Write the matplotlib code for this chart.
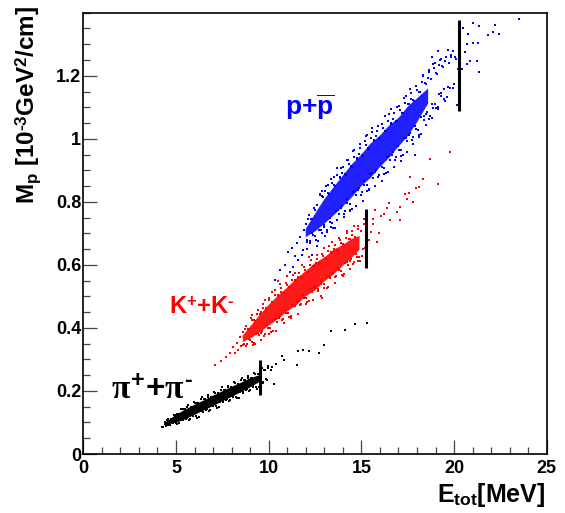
import matplotlib
matplotlib.use("Agg")
import matplotlib.pyplot as plt
from matplotlib.ticker import MultipleLocator, FixedLocator

plt.rcParams['font.family'] = ['Liberation Sans', 'DejaVu Sans']
plt.rcParams['font.weight'] = 'bold'
plt.rcParams['mathtext.fontset'] = 'custom'
plt.rcParams['mathtext.rm'] = 'Liberation Sans:bold'
plt.rcParams['mathtext.bf'] = 'Liberation Sans:bold'
plt.rcParams['mathtext.it'] = 'Liberation Serif'

# ---------------- data: (E_tot [MeV], M_p [1e-3 GeV^2/cm]) ----------------
# dense cores of the three bands (outlines)
pion_core = [(4.35, 0.091), (5.0, 0.099), (5.5, 0.110), (6.0, 0.124), (6.5, 0.138), (7.0, 0.152), (7.5, 0.167),
             (8.0, 0.181), (8.5, 0.196), (9.0, 0.211), (9.6, 0.232),
             (9.6, 0.252), (9.0, 0.240), (8.5, 0.226), (8.0, 0.213), (7.5, 0.199), (7.0, 0.185), (6.5, 0.170),
             (6.0, 0.156), (5.5, 0.141), (5.0, 0.124), (4.35, 0.097)]
kaon_core = [(8.6, 0.355), (9.0, 0.366), (9.5, 0.385), (10.0, 0.407), (10.5, 0.428), (11.0, 0.452), (11.5, 0.472),
             (12.0, 0.500), (12.5, 0.519), (13.0, 0.547), (13.5, 0.570), (14.0, 0.597), (14.5, 0.624), (14.9, 0.648),
             (14.9, 0.692), (14.5, 0.683), (14.0, 0.663), (13.5, 0.648), (13.0, 0.623), (12.5, 0.606), (12.0, 0.580),
             (11.5, 0.557), (11.0, 0.528), (10.5, 0.502), (10.0, 0.473), (9.5, 0.440), (9.0, 0.404), (8.6, 0.376)]
prot_core = [(12.0, 0.688), (12.5, 0.706), (13.0, 0.730), (13.5, 0.757), (14.0, 0.785), (14.5, 0.815), (15.0, 0.850),
             (15.5, 0.876), (16.0, 0.910), (16.5, 0.940), (17.0, 0.975), (17.5, 1.008), (18.0, 1.052), (18.6, 1.112),
             (18.6, 1.160), (18.0, 1.128), (17.5, 1.102), (17.0, 1.066), (16.5, 1.042), (16.0, 1.010), (15.5, 0.985),
             (15.0, 0.950), (14.5, 0.920), (14.0, 0.883), (13.5, 0.846), (13.0, 0.808), (12.5, 0.762), (12.0, 0.714)]

# individual events
pion_pts = [
    (4.22, 0.087), (4.31, 0.085), (4.40, 0.102), (4.49, 0.091), (4.58, 0.110), (4.67, 0.093), (4.76, 0.112),
    (4.85, 0.099), (4.94, 0.123), (5.03, 0.096), (5.12, 0.126), (5.21, 0.108), (5.30, 0.144), (5.39, 0.107),
    (5.48, 0.142), (5.57, 0.113), (5.66, 0.156), (5.75, 0.110), (5.84, 0.149), (5.93, 0.120), (6.02, 0.162),
    (6.11, 0.115), (6.20, 0.161), (6.29, 0.136), (6.38, 0.181), (6.47, 0.134), (6.56, 0.173), (6.65, 0.144),
    (6.74, 0.186), (6.83, 0.141), (6.92, 0.179), (7.01, 0.151), (7.10, 0.193), (7.19, 0.146), (7.28, 0.192),
    (7.37, 0.166), (7.46, 0.212), (7.55, 0.164), (7.64, 0.203), (7.73, 0.174), (7.82, 0.217), (7.91, 0.172),
    (8.00, 0.210), (8.09, 0.182), (8.18, 0.224), (8.27, 0.177), (8.36, 0.222), (8.45, 0.197), (8.54, 0.242),
    (8.63, 0.195), (8.72, 0.234), (8.81, 0.205), (8.90, 0.248), (8.99, 0.202), (9.08, 0.241), (9.17, 0.212),
    (9.26, 0.254), (9.35, 0.207), (9.44, 0.253), (9.53, 0.228), (9.62, 0.273), (9.71, 0.226), (9.80, 0.265),
    (9.89, 0.236), (9.98, 0.278),
    (4.45, 0.089), (4.54, 0.107), (4.63, 0.091), (4.72, 0.110), (4.81, 0.100), (4.90, 0.125), (4.99, 0.097),
    (5.08, 0.127), (5.17, 0.097), (5.26, 0.142), (5.35, 0.107), (5.44, 0.142), (5.53, 0.110), (5.62, 0.150),
    (5.71, 0.107), (5.80, 0.150), (5.89, 0.124), (5.98, 0.166), (6.07, 0.121), (6.16, 0.161), (6.25, 0.117),
    (6.34, 0.173), (6.43, 0.138), (6.52, 0.173), (6.61, 0.141), (6.70, 0.180), (6.79, 0.138), (6.88, 0.180),
    (6.97, 0.155), (7.06, 0.197), (7.15, 0.151), (7.24, 0.192), (7.33, 0.148), (7.42, 0.204), (7.51, 0.168),
    (7.60, 0.204), (7.69, 0.172), (7.78, 0.211), (7.87, 0.168), (7.96, 0.211), (8.05, 0.186), (8.14, 0.228),
    (8.23, 0.182), (8.32, 0.223), (8.41, 0.179), (8.50, 0.234), (8.59, 0.199), (8.68, 0.234), (8.77, 0.202),
    (8.86, 0.242), (8.95, 0.199), (9.04, 0.242), (9.13, 0.216), (9.22, 0.258), (9.31, 0.213), (9.40, 0.253),
    (9.49, 0.214), (9.58, 0.265), (9.67, 0.230), (9.76, 0.265), (9.85, 0.238), (9.94, 0.272), (10.10, 0.267),
    (10.20, 0.276), (10.27, 0.223), (10.42, 0.286), (10.71, 0.310), (10.81, 0.297), (11.50, 0.282),
    (11.56, 0.327), (11.87, 0.329), (12.20, 0.327), (12.74, 0.321), (12.99, 0.345), (13.36, 0.390),
    (14.10, 0.393), (14.64, 0.413), (15.29, 0.415)]

kaon_pts = [
    (7.13, 0.281), (7.45, 0.296), (7.70, 0.309), (7.90, 0.322), (8.05, 0.338), (8.18, 0.320), (8.28, 0.352),
    (8.35, 0.331), (8.45, 0.372), (8.52, 0.342),
    (8.60, 0.386), (8.68, 0.350), (8.76, 0.405), (8.84, 0.348), (8.92, 0.398), (9.00, 0.362), (9.08, 0.426),
    (9.16, 0.346), (9.24, 0.423), (9.32, 0.380), (9.40, 0.457), (9.48, 0.378), (9.56, 0.451), (9.64, 0.389),
    (9.72, 0.477), (9.80, 0.380), (9.88, 0.461), (9.96, 0.399), (10.04, 0.488), (10.12, 0.387), (10.20, 0.482),
    (10.28, 0.426), (10.36, 0.521), (10.44, 0.420), (10.52, 0.501), (10.60, 0.439), (10.68, 0.527), (10.76, 0.429),
    (10.84, 0.510), (10.92, 0.448), (11.00, 0.536), (11.08, 0.435), (11.16, 0.530), (11.24, 0.474), (11.32, 0.569),
    (11.40, 0.468), (11.48, 0.549), (11.56, 0.487), (11.64, 0.575), (11.72, 0.477), (11.80, 0.558), (11.88, 0.496),
    (11.96, 0.584), (12.04, 0.482), (12.12, 0.577), (12.20, 0.521), (12.28, 0.616), (12.36, 0.514), (12.44, 0.595),
    (12.52, 0.532), (12.60, 0.620), (12.68, 0.522), (12.76, 0.602), (12.84, 0.539), (12.92, 0.627), (13.00, 0.526),
    (13.08, 0.620), (13.16, 0.564), (13.24, 0.659), (13.32, 0.557), (13.40, 0.638), (13.48, 0.575), (13.56, 0.663),
    (13.64, 0.565), (13.72, 0.645), (13.80, 0.583), (13.88, 0.670), (13.96, 0.569), (14.04, 0.663), (14.12, 0.607),
    (14.20, 0.702), (14.28, 0.601), (14.36, 0.681), (14.44, 0.618), (14.52, 0.706), (14.60, 0.608), (14.68, 0.689),
    (14.76, 0.626), (14.84, 0.713), (14.92, 0.612), (15.00, 0.707), (15.08, 0.651), (15.16, 0.745),
    (8.64, 0.346), (8.72, 0.396), (8.80, 0.343), (8.88, 0.398), (8.96, 0.366), (9.04, 0.432), (9.12, 0.356),
    (9.20, 0.424), (9.28, 0.350), (9.36, 0.444), (9.44, 0.384), (9.52, 0.445), (9.60, 0.383), (9.68, 0.464),
    (9.76, 0.374), (9.84, 0.463), (9.92, 0.408), (10.00, 0.496), (10.08, 0.399), (10.16, 0.483), (10.24, 0.389),
    (10.32, 0.505), (10.40, 0.429), (10.48, 0.503), (10.56, 0.433), (10.64, 0.514), (10.72, 0.424), (10.80, 0.512),
    (10.88, 0.456), (10.96, 0.544), (11.04, 0.447), (11.12, 0.531), (11.20, 0.437), (11.28, 0.553), (11.36, 0.477),
    (11.44, 0.551), (11.52, 0.481), (11.60, 0.562), (11.68, 0.472), (11.76, 0.560), (11.84, 0.504), (11.92, 0.592),
    (12.00, 0.495), (12.08, 0.579), (12.16, 0.484), (12.24, 0.600), (12.32, 0.523), (12.40, 0.597), (12.48, 0.527),
    (12.56, 0.607), (12.64, 0.516), (12.72, 0.604), (12.80, 0.548), (12.88, 0.636), (12.96, 0.538), (13.04, 0.622),
    (13.12, 0.527), (13.20, 0.643), (13.28, 0.566), (13.36, 0.640), (13.44, 0.570), (13.52, 0.650), (13.60, 0.560),
    (13.68, 0.647), (13.76, 0.591), (13.84, 0.679), (13.92, 0.581), (14.00, 0.665), (14.08, 0.571), (14.16, 0.686),
    (14.24, 0.609), (14.32, 0.683), (14.40, 0.613), (14.48, 0.694), (14.56, 0.603), (14.64, 0.690), (14.72, 0.634),
    (14.80, 0.722), (14.88, 0.624), (14.96, 0.708), (15.04, 0.627), (15.12, 0.729), (15.20, 0.654),
    (9.10, 0.440), (9.20, 0.351), (9.40, 0.457), (9.60, 0.363), (9.80, 0.489), (10.00, 0.380), (10.20, 0.515),
    (10.40, 0.390), (10.50, 0.550), (10.60, 0.540), (10.80, 0.415), (11.00, 0.565), (11.20, 0.430), (11.40, 0.575),
    (11.60, 0.445), (11.80, 0.600), (12.00, 0.475), (12.20, 0.624), (12.40, 0.488), (12.60, 0.632), (12.80, 0.501),
    (12.90, 0.495), (13.00, 0.655), (13.20, 0.529), (13.40, 0.673), (13.60, 0.542), (13.80, 0.686), (14.00, 0.565),
    (14.20, 0.709), (14.40, 0.588), (14.60, 0.722), (14.80, 0.611),
    (15.40, 0.680), (15.50, 0.705), (15.60, 0.745), (15.65, 0.730), (15.73, 0.775), (15.83, 0.672), (15.95, 0.700),
    (16.05, 0.755), (16.20, 0.760), (16.36, 0.780), (16.50, 0.795), (16.54, 0.741), (16.90, 0.768), (17.08, 0.741),
    (17.10, 0.784), (17.37, 0.825), (17.45, 0.810), (17.55, 0.827), (17.64, 0.878), (17.77, 0.800), (17.96, 0.845),
    (18.10, 0.847), (18.31, 0.871), (18.68, 0.937), (19.12, 0.857), (19.80, 0.958)]

prot_pts = [
    (10.34, 0.552), (10.62, 0.585), (10.90, 0.600), (11.02, 0.640), (11.15, 0.579), (11.25, 0.655), (11.33, 0.593),
    (11.42, 0.628), (11.50, 0.670), (11.60, 0.614), (11.68, 0.690), (11.78, 0.630), (11.86, 0.648), (11.90, 0.712),
    (12.05, 0.651), (12.32, 0.630), (12.59, 0.660),
    (12.02, 0.731), (12.09, 0.679), (12.17, 0.757), (12.25, 0.676), (12.31, 0.746), (12.40, 0.695), (12.48, 0.773),
    (12.55, 0.679), (12.63, 0.789), (12.71, 0.710), (12.78, 0.825), (12.86, 0.700), (12.94, 0.816), (13.01, 0.726),
    (13.09, 0.851), (13.17, 0.711), (13.24, 0.826), (13.32, 0.736), (13.40, 0.861), (13.47, 0.716), (13.55, 0.851),
    (13.63, 0.771), (13.70, 0.906), (13.78, 0.761), (13.86, 0.876), (13.93, 0.786), (14.01, 0.911), (14.09, 0.771),
    (14.16, 0.885), (14.24, 0.796), (14.32, 0.921), (14.39, 0.775), (14.47, 0.911), (14.55, 0.831), (14.62, 0.965),
    (14.70, 0.821), (14.78, 0.936), (14.85, 0.845), (14.93, 0.971), (15.01, 0.831), (15.09, 0.945), (15.16, 0.855),
    (15.24, 0.979), (15.32, 0.834), (15.39, 0.968), (15.47, 0.888), (15.55, 1.023), (15.62, 0.877), (15.70, 0.992),
    (15.78, 0.902), (15.85, 1.026), (15.93, 0.886), (16.01, 1.001), (16.09, 0.910), (16.16, 1.035), (16.24, 0.889),
    (16.32, 1.024), (16.39, 0.943), (16.47, 1.078), (16.55, 0.933), (16.62, 1.047), (16.70, 0.957), (16.78, 1.082),
    (16.85, 0.941), (16.93, 1.056), (17.01, 0.966), (17.09, 1.091), (17.16, 0.946), (17.24, 1.082), (17.32, 1.002),
    (17.39, 1.137), (17.47, 0.993), (17.55, 1.109), (17.62, 1.018), (17.70, 1.144), (17.78, 1.005), (17.85, 1.120),
    (17.93, 1.030), (18.01, 1.156), (18.09, 1.012), (18.16, 1.147), (18.24, 1.068), (18.32, 1.204), (18.39, 1.059),
    (18.47, 1.175), (18.55, 1.086), (18.62, 1.212), (18.70, 1.073), (18.78, 1.189), (18.85, 1.099), (18.93, 1.225),
    (19.01, 1.098), (19.09, 1.206), (19.16, 1.143), (19.24, 1.251), (19.32, 1.136), (19.39, 1.228), (19.47, 1.157),
    (19.55, 1.258), (19.62, 1.132), (19.70, 1.242), (19.78, 1.162), (19.85, 1.266), (19.93, 1.161), (20.05, 1.258),
    (12.06, 0.674), (12.13, 0.745), (12.21, 0.670), (12.28, 0.747), (12.36, 0.701), (12.44, 0.779), (12.52, 0.691),
    (12.59, 0.791), (12.67, 0.677), (12.75, 0.823), (12.82, 0.712), (12.90, 0.818), (12.98, 0.719), (13.05, 0.833),
    (13.13, 0.704), (13.21, 0.829), (13.28, 0.748), (13.36, 0.873), (13.44, 0.734), (13.51, 0.853), (13.59, 0.718),
    (13.67, 0.884), (13.74, 0.773), (13.82, 0.878), (13.90, 0.779), (13.97, 0.893), (14.05, 0.763), (14.13, 0.889),
    (14.20, 0.808), (14.28, 0.933), (14.36, 0.793), (14.43, 0.913), (14.51, 0.778), (14.59, 0.943), (14.66, 0.833),
    (14.74, 0.938), (14.82, 0.838), (14.89, 0.953), (14.97, 0.823), (15.05, 0.948), (15.12, 0.867), (15.20, 0.992),
    (15.28, 0.852), (15.35, 0.971), (15.43, 0.836), (15.51, 1.001), (15.58, 0.890), (15.66, 0.995), (15.74, 0.894),
    (15.81, 1.009), (15.89, 0.878), (15.97, 1.003), (16.04, 0.922), (16.12, 1.047), (16.20, 0.907), (16.27, 1.026),
    (16.35, 0.891), (16.43, 1.056), (16.50, 0.945), (16.58, 1.050), (16.66, 0.950), (16.73, 1.064), (16.81, 0.934),
    (16.89, 1.058), (16.96, 0.978), (17.04, 1.103), (17.12, 0.963), (17.19, 1.083), (17.27, 0.949), (17.35, 1.115),
    (17.42, 1.004), (17.50, 1.110), (17.58, 1.011), (17.65, 1.126), (17.73, 0.996), (17.81, 1.122), (17.88, 1.042),
    (17.96, 1.167), (18.04, 1.028), (18.12, 1.149), (18.19, 1.014), (18.27, 1.180), (18.35, 1.071), (18.42, 1.177),
    (18.50, 1.078), (18.58, 1.194), (18.65, 1.064), (18.73, 1.190), (18.81, 1.111), (18.88, 1.236), (18.96, 1.110),
    (19.05, 1.208), (19.13, 1.101), (19.20, 1.233), (19.28, 1.146), (19.36, 1.230), (19.44, 1.127), (19.51, 1.246),
    (19.66, 1.165), (19.82, 1.259), (19.98, 1.174), (20.12, 1.252),
    (12.85, 0.835), (13.02, 0.691), (13.20, 0.853), (13.37, 0.719), (13.54, 0.880), (13.71, 0.741), (13.88, 0.907),
    (14.05, 0.753), (14.22, 0.934), (14.39, 0.770), (14.56, 0.962), (14.73, 0.787), (14.90, 0.984), (15.07, 0.804),
    (15.24, 1.009), (15.41, 0.840), (15.58, 1.035), (15.75, 0.850), (15.92, 1.040), (16.09, 0.865), (16.26, 1.071),
    (16.43, 0.896), (16.60, 1.096), (16.77, 0.911), (16.94, 1.101), (17.11, 0.928), (17.28, 1.130), (17.45, 0.957),
    (17.62, 1.158), (17.79, 0.985), (17.96, 1.167), (18.13, 1.005), (18.30, 1.198), (18.47, 1.045), (18.64, 1.218),
    (18.81, 1.066), (18.98, 1.239), (19.15, 1.094), (19.32, 1.254), (19.49, 1.119),
    (15.32, 1.013), (17.89, 0.949), (18.79, 1.258), (19.11, 1.277), (19.69, 1.282), (19.96, 1.277), (20.14, 1.106),
    (20.23, 1.220), (20.45, 1.220), (20.50, 1.350), (20.61, 1.274), (20.68, 1.237), (20.72, 1.302), (20.77, 1.332),
    (20.86, 1.248), (21.04, 1.367), (21.04, 1.305), (21.22, 1.248), (21.31, 1.305), (21.36, 1.359), (21.36, 1.213),
    (21.85, 1.330), (22.12, 1.340), (22.20, 1.362), (22.43, 1.332), (23.52, 1.381)]

# vertical cut lines
cut_E = [9.51, 15.26, 20.28]
cut_lo = [0.186, 0.590, 1.087]
cut_hi = [0.297, 0.778, 1.378]

x_ticks = [0, 5, 10, 15, 20, 25]
y_ticks = [0, 0.2, 0.4, 0.6, 0.8, 1.0, 1.2]
y_tick_labels = ['0', '0.2', '0.4', '0.6', '0.8', '1', '1.2']

# ---------------- figure ----------------
fig = plt.figure(figsize=(5.65, 5.13), dpi=100)
ax = fig.add_axes([0.1474, 0.115, 0.8204, 0.8602])

for core, col, a in ((pion_core, 'black', 1.0), (kaon_core, '#ff0000', 0.9), (prot_core, '#0000ff', 0.87)):
    ce, cm = zip(*core)
    ax.fill(ce, cm, color=col, lw=0, alpha=a)

for pts, col in ((pion_pts, 'black'), (kaon_pts, '#ff0000'), (prot_pts, '#0000ff')):
    pe, pm = zip(*pts)
    ax.scatter(pe, pm, s=3.5, marker='s', color=col, linewidths=0)

ax.vlines(cut_E, cut_lo, cut_hi, colors='black', linewidth=2.2)

ax.set_xlim(0, 25)
ax.set_ylim(0, 1.4)
ax.xaxis.set_major_locator(FixedLocator(x_ticks))
ax.xaxis.set_minor_locator(MultipleLocator(1))
ax.yaxis.set_major_locator(FixedLocator(y_ticks))
ax.yaxis.set_minor_locator(MultipleLocator(0.05))
ax.set_xticklabels([str(t) for t in x_ticks])
ax.set_yticklabels(y_tick_labels)

ax.tick_params(which='both', direction='in', top=False, right=False, color='#444444', width=0.9)
ax.tick_params(which='major', length=10, labelsize=13)
ax.tick_params(which='minor', length=5)
ax.tick_params(axis='y', which='major', pad=1.5)
ax.tick_params(axis='x', which='major', pad=4)
for sp in ax.spines.values():
    sp.set_linewidth(1.2)
    sp.set_color('black')

fig.text(28 / 565, 1 - 6 / 513,
         '$\\mathbf{M}_{\\mathbf{p}}\\ \\mathbf{[10}^{\u2010\\mathbf{3}}\\mathbf{GeV}^{2}\\mathbf{/cm]}$',
         rotation=90, ha='center', va='top', fontsize=17.5)
fig.text(545 / 565, 1 - 502 / 513, r'$\mathbf{E}_{\mathbf{tot}}\mathbf{[MeV]}$',
         ha='right', va='baseline', fontsize=18)

ax.text(12.24, 1.076, r'$\mathbf{p}\mathbf{+}\overline{\mathbf{p}}$', color='#0000ff',
        fontsize=19, ha='center', va='baseline')
ax.text(6.36, 0.445, '$\\mathbf{K}^{+}\\mathbf{+}\\mathbf{K}^{\u2010}$', color='#ff0000',
        fontsize=17, ha='center', va='baseline')
ax.text(3.69, 0.175, '$\\pi^{+}\\mathbf{+}\\pi^{\u2010}$', color='black',
        fontsize=24, ha='center', va='baseline')

fig.savefig('out.png', dpi=100)
